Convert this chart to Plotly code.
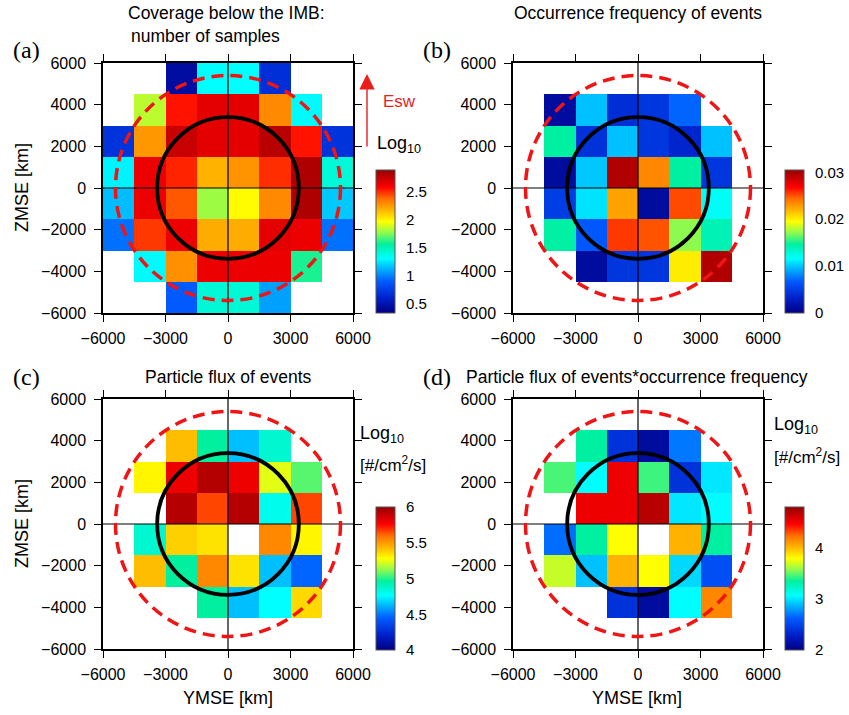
import plotly.graph_objects as go

N = None
# bin centres (km)
ymse_km = [-5250, -3750, -2250, -750, 750, 2250, 3750, 5250]
zmse_km = [5250, 3750, 2250, 750, -750, -2250, -3750, -5250]  # rows top -> bottom

# (a) log10 number of samples
log_samples = [
    [N, N, 0.45, 1.31, 1.31, 0.68, N, N],
    [N, 1.85, 2.55, 2.66, 2.66, 2.30, 1.30, N],
    [0.70, 2.26, 2.74, 2.66, 2.66, 2.79, 2.55, 0.70],
    [1.28, 2.64, 2.52, 2.18, 2.27, 2.50, 2.82, 1.41],
    [1.15, 2.64, 2.42, 1.80, 1.98, 2.30, 2.82, 1.18],
    [0.96, 2.48, 2.64, 2.20, 2.20, 2.66, 2.64, 0.96],
    [N, 1.30, 2.28, 2.64, 2.64, 2.64, 1.60, N],
    [N, N, 0.90, 1.42, 1.42, 1.08, N, N],
]

# (b) occurrence frequency of events
occ_freq = [
    [N, N, N, N, N, N, N, N],
    [N, 0.0012, 0.0098, 0.0040, 0.0045, 0.0070, N, N],
    [N, 0.0146, 0.0042, 0.0098, 0.0045, 0.0035, 0.0098, N],
    [N, 0.0012, 0.0100, 0.0296, 0.0235, 0.0146, 0.0045, N],
    [N, 0.0050, 0.0108, 0.0226, 0.0012, 0.0252, 0.0118, N],
    [N, 0.0145, 0.0065, 0.0256, 0.0250, 0.0171, 0.0140, N],
    [N, N, 0.0012, 0.0045, 0.0045, 0.0201, 0.0296, N],
    [N, N, N, N, N, N, N, N],
]

# (c) log10 particle flux of events
log_flux = [
    [N, N, N, N, N, N, N, N],
    [N, N, 5.42, 4.96, 4.64, 4.86, N, N],
    [N, 5.30, 5.80, 5.93, 5.80, 5.24, 5.06, N],
    [N, N, 5.93, 5.66, 5.93, 4.80, 5.66, N],
    [N, 4.86, 5.38, 5.34, N, 5.54, 5.30, N],
    [N, 5.42, 4.96, 5.54, 5.34, 4.64, 4.46, N],
    [N, N, N, 4.96, 4.64, 4.76, 5.36, N],
    [N, N, N, N, N, N, N, N],
]

# (d) log10 particle flux * occurrence frequency
log_flux_occ = [
    [N, N, N, N, N, N, N, N],
    [N, N, 3.34, 2.39, 2.11, 2.70, N, N],
    [N, 3.46, 3.06, 4.52, 3.44, 2.39, 3.00, N],
    [N, N, 4.52, 4.52, 4.69, 3.00, 3.06, N],
    [N, 2.67, 3.34, 3.79, N, 4.02, 3.34, N],
    [N, 3.68, 2.90, 4.02, 3.79, 2.96, 2.55, N],
    [N, N, N, 2.39, 2.11, 3.06, 4.16, N],
    [N, N, N, N, N, N, N, N],
]

x_ticks = [-6000, -3000, 0, 3000, 6000]
y_ticks = [-6000, -4000, -2000, 0, 2000, 4000, 6000]
imb_radius_km = 3400
outer_radius_km = 5400

jet_like = [
    [0.0, "rgb(0,0,130)"],
    [0.1, "rgb(0,30,200)"],
    [0.22, "rgb(0,90,255)"],
    [0.3, "rgb(0,170,255)"],
    [0.38, "rgb(0,255,255)"],
    [0.48, "rgb(0,240,160)"],
    [0.56, "rgb(140,250,80)"],
    [0.64, "rgb(255,255,0)"],
    [0.72, "rgb(255,180,0)"],
    [0.8, "rgb(255,110,0)"],
    [0.88, "rgb(255,0,0)"],
    [1.0, "rgb(150,0,0)"],
]

W, H = 849, 715
def P(px):
    return px / W
def Q(py):
    return 1 - py / H

SANS = "Liberation Sans, Arial, sans-serif"
SERIF = "Liberation Serif, Times New Roman, serif"

panels = [
    dict(z=log_samples, zmin=0.34, zmax=2.89, cb_ticks=[0.5, 1, 1.5, 2, 2.5],
         cb_text=["0.5", "1", "1.5", "2", "2.5"],
         xd=(103, 353), yd=(63, 313), cbx=376, cby=(170, 313)),
    dict(z=occ_freq, zmin=0.0, zmax=0.0305, cb_ticks=[0, 0.01, 0.02, 0.03],
         cb_text=["0", "0.01", "0.02", "0.03"],
         xd=(513, 763), yd=(63, 313), cbx=785, cby=(170, 313)),
    dict(z=log_flux, zmin=4.0, zmax=6.0, cb_ticks=[4, 4.5, 5, 5.5, 6],
         cb_text=["4", "4.5", "5", "5.5", "6"],
         xd=(103, 353), yd=(399, 649), cbx=376, cby=(507, 650)),
    dict(z=log_flux_occ, zmin=2.0, zmax=4.8, cb_ticks=[2, 3, 4],
         cb_text=["2", "3", "4"],
         xd=(513, 763), yd=(399, 649), cbx=785, cby=(507, 650)),
]

fig = go.Figure()
layout_axes = {}
shapes = []
for i, p in enumerate(panels, start=1):
    sx = "" if i == 1 else str(i)
    xa, ya = "x" + sx, "y" + sx
    cb_len = p["cby"][1] - p["cby"][0]
    fig.add_trace(go.Heatmap(
        x=ymse_km, y=zmse_km, z=p["z"], zmin=p["zmin"], zmax=p["zmax"],
        colorscale=jet_like, xaxis=xa, yaxis=ya, hoverongaps=False,
        colorbar=dict(
            x=P(p["cbx"]), xanchor="left", xpad=0, ypad=0,
            y=Q((p["cby"][0] + p["cby"][1]) / 2), yanchor="middle",
            lenmode="pixels", len=cb_len, thicknessmode="pixels", thickness=19,
            outlinewidth=1, outlinecolor="#555",
            tickvals=p["cb_ticks"], ticktext=p["cb_text"],
            ticks="outside", ticklen=8, tickcolor="rgba(0,0,0,0)",
            tickfont=dict(family=SANS, size=15, color="black"),
        ),
    ))
    common = dict(showline=True, linecolor="black", linewidth=1.5, mirror="ticks",
                  ticks="outside", ticklen=7, tickwidth=1.2, tickcolor="black",
                  showgrid=False, zeroline=False, range=[-6000, 6000],
                  automargin=False,
                  tickfont=dict(family=SANS, size=16, color="black"),
                  fixedrange=True)
    layout_axes["xaxis" + sx] = dict(common, domain=[P(p["xd"][0]), P(p["xd"][1])],
                                     anchor=ya, tickvals=x_ticks, ticklabelstandoff=3)
    layout_axes["yaxis" + sx] = dict(common, domain=[Q(p["yd"][1]), Q(p["yd"][0])],
                                     anchor=xa, tickvals=y_ticks, ticklabelstandoff=5)
    # crosshair
    shapes.append(dict(type="line", xref=xa, yref=ya, x0=-6000, x1=6000, y0=0, y1=0,
                       line=dict(color="black", width=1.2)))
    shapes.append(dict(type="line", xref=xa, yref=ya, x0=0, x1=0, y0=-6000, y1=6000,
                       line=dict(color="black", width=1.2)))
    # circles
    shapes.append(dict(type="circle", xref=xa, yref=ya,
                       x0=-outer_radius_km, x1=outer_radius_km,
                       y0=-outer_radius_km, y1=outer_radius_km,
                       line=dict(color="rgb(240,20,20)", width=3.5, dash="12px,7px")))
    shapes.append(dict(type="circle", xref=xa, yref=ya,
                       x0=-imb_radius_km, x1=imb_radius_km,
                       y0=-imb_radius_km, y1=imb_radius_km,
                       line=dict(color="black", width=3.8)))

def txt(text, x, y, size=17.5, family=SANS, color="black", xanchor="center", angle=0):
    return dict(text=text, x=P(x), y=Q(y), xref="paper", yref="paper",
                xanchor=xanchor, yanchor="middle", showarrow=False, textangle=angle,
                font=dict(family=family, size=size, color=color))

annotations = [
    txt("Coverage below the IMB:", 226, 13),
    txt("number of samples", 205, 36),
    txt("Occurrence frequency of events", 638, 13),
    txt("Particle flux of events", 228, 377),
    txt("Particle flux of events*occurrence frequency", 637, 377),
    txt("(a)", 27, 50, size=24, family=SERIF),
    txt("(b)", 437, 50, size=24, family=SERIF),
    txt("(c)", 27, 377, size=24, family=SERIF),
    txt("(d)", 437, 377, size=24, family=SERIF),
    txt("ZMSE [km]", 22, 188, size=18, angle=-90),
    txt("ZMSE [km]", 22, 524, size=18, angle=-90),
    txt("YMSE [km]", 228, 698, size=18),
    txt("YMSE [km]", 637, 698, size=18),
    txt("Log<sub>10</sub>", 375, 144, size=18, xanchor="left"),
    txt("Log<sub>10</sub>", 358, 434, size=18, xanchor="left"),
    txt("[#/cm<sup>2</sup>/s]", 358, 464, size=17, xanchor="left"),
    txt("Log<sub>10</sub>", 772, 425, size=18, xanchor="left"),
    txt("[#/cm<sup>2</sup>/s]", 772, 456, size=17, xanchor="left"),
    txt("Esw", 381, 102, size=17, color="rgb(235,30,30)", xanchor="left"),
    dict(text="", x=P(367), y=Q(74), xref="paper", yref="paper", showarrow=True,
         ax=0, ay=74, axref="pixel", ayref="pixel", arrowhead=2, arrowsize=2.2,
         arrowwidth=1.4, arrowcolor="rgb(235,30,30)"),
]

fig.update_layout(
    template="none",
    width=W, height=H, autosize=False,
    margin=dict(l=0, r=0, t=0, b=0, pad=0, autoexpand=False),
    paper_bgcolor="white", plot_bgcolor="white",
    showlegend=False, shapes=shapes, annotations=annotations,
    **layout_axes,
)

fig.write_html(
    "out.html",
    config={"displayModeBar": False},
    post_script="document.body.style.margin='0';document.body.style.overflow='hidden';",
)
